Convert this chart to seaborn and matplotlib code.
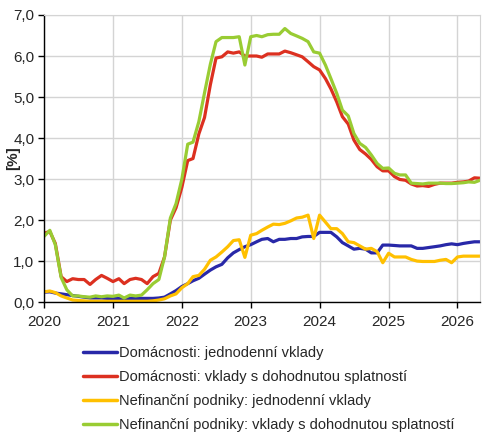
import matplotlib
matplotlib.use("Agg")
import matplotlib.pyplot as plt
import matplotlib.dates as mdates
from matplotlib.ticker import FuncFormatter, MultipleLocator
import pandas as pd
import seaborn as sns

months = pd.date_range("2020-01-01", periods=77, freq="MS")

domacnosti_jednodenni = [
    0.24, 0.25, 0.22, 0.20, 0.18, 0.16, 0.14, 0.12, 0.10, 0.10, 0.10, 0.09,
    0.09, 0.09, 0.09, 0.09, 0.09, 0.09, 0.09, 0.09, 0.10, 0.12, 0.20, 0.28,
    0.38, 0.45, 0.52, 0.58, 0.68, 0.78, 0.86, 0.92, 1.08, 1.20, 1.28, 1.35,
    1.40, 1.47, 1.53, 1.55, 1.47, 1.53, 1.53, 1.55, 1.55, 1.59, 1.60, 1.60,
    1.70, 1.70, 1.70, 1.59, 1.45, 1.37, 1.29, 1.31, 1.29, 1.20, 1.20, 1.39,
    1.39, 1.38, 1.37, 1.37, 1.37, 1.31, 1.31, 1.33, 1.35, 1.37, 1.40, 1.42,
    1.40, 1.43, 1.45, 1.47, 1.47,
]
domacnosti_splatnost = [
    1.68, 1.72, 1.43, 0.62, 0.50, 0.57, 0.55, 0.55, 0.43, 0.55, 0.65, 0.58,
    0.50, 0.57, 0.45, 0.55, 0.58, 0.55, 0.45, 0.62, 0.70, 1.10, 2.00, 2.30,
    2.80, 3.45, 3.50, 4.10, 4.50, 5.30, 5.95, 5.98, 6.10, 6.07, 6.10, 6.00,
    6.00, 6.00, 5.97, 6.05, 6.05, 6.05, 6.12, 6.08, 6.03, 5.98, 5.86, 5.74,
    5.66, 5.45, 5.20, 4.88, 4.52, 4.34, 3.95, 3.72, 3.61, 3.48, 3.30, 3.20,
    3.20, 3.06, 2.99, 2.97, 2.88, 2.83, 2.84, 2.82, 2.87, 2.90, 2.90, 2.90,
    2.92, 2.93, 2.95, 3.03, 3.02,
]
podniky_jednodenni = [
    0.25, 0.27, 0.23, 0.15, 0.10, 0.05, 0.04, 0.03, 0.02, 0.02, 0.02, 0.02,
    0.02, 0.02, 0.02, 0.02, 0.02, 0.02, 0.02, 0.03, 0.05, 0.08, 0.15, 0.20,
    0.35, 0.45, 0.62, 0.65, 0.80, 1.02, 1.10, 1.22, 1.35, 1.50, 1.52, 1.09,
    1.63, 1.67, 1.75, 1.83, 1.90, 1.89, 1.92, 1.98, 2.05, 2.07, 2.12, 1.55,
    2.12, 1.95, 1.79, 1.79, 1.67, 1.47, 1.45, 1.37, 1.29, 1.31, 1.23, 0.96,
    1.19, 1.10, 1.10, 1.10, 1.04, 1.00, 0.99, 0.99, 0.99, 1.02, 1.04, 0.96,
    1.10, 1.12, 1.12, 1.12, 1.12,
]
podniky_splatnost = [
    1.60, 1.75, 1.40, 0.60, 0.30, 0.15, 0.15, 0.13, 0.12, 0.15, 0.13, 0.15,
    0.14, 0.17, 0.10, 0.17, 0.15, 0.17, 0.30, 0.45, 0.55, 1.10, 2.05, 2.40,
    3.00, 3.85, 3.90, 4.40, 5.10, 5.80, 6.35, 6.45, 6.45, 6.45, 6.47, 5.78,
    6.47, 6.50, 6.47, 6.52, 6.53, 6.53, 6.67, 6.55, 6.49, 6.43, 6.35, 6.10,
    6.07, 5.78, 5.45, 5.09, 4.68, 4.54, 4.11, 3.87, 3.77, 3.59, 3.38, 3.26,
    3.27, 3.14, 3.10, 3.10, 2.90, 2.89, 2.88, 2.90, 2.90, 2.90, 2.89, 2.89,
    2.90, 2.91, 2.93, 2.92, 2.97,
]

series_names = [
    "Domácnosti: jednodenní vklady",
    "Domácnosti: vklady s dohodnutou splatností",
    "Nefinanční podniky: jednodenní vklady",
    "Nefinanční podniky: vklady s dohodnutou splatností",
]
colors = ["#2828a8", "#dc3020", "#ffc000", "#99cc33"]

frames = []
for name, vals in zip(series_names, [domacnosti_jednodenni, domacnosti_splatnost,
                                     podniky_jednodenni, podniky_splatnost]):
    frames.append(pd.DataFrame({"datum": months, "hodnota": vals, "serie": name}))
df = pd.concat(frames, ignore_index=True)

sns.set_style("white")
plt.rcParams["font.family"] = ["Liberation Sans", "DejaVu Sans"]

fig = plt.figure(figsize=(4.97, 4.41), dpi=100)
ax = fig.add_axes([0.0885, 0.315, 0.8775, 0.651])

sns.lineplot(data=df, x="datum", y="hodnota", hue="serie", palette=colors,
             linewidth=2.3, ax=ax, legend=False)

ax.set_xlim(months[0], months[-1])
ax.set_ylim(0, 7)
ax.yaxis.set_major_locator(MultipleLocator(1))
ax.yaxis.set_major_formatter(FuncFormatter(lambda v, p: f"{v:.1f}".replace(".", ",")))
ax.xaxis.set_major_locator(mdates.YearLocator())
ax.xaxis.set_major_formatter(mdates.DateFormatter("%Y"))

ax.grid(True, color="#d4d4d4", linewidth=1)
ax.set_axisbelow(True)
for side in ["top", "right"]:
    ax.spines[side].set_color("#d4d4d4")
for side in ["left", "bottom"]:
    ax.spines[side].set_color("black")
    ax.spines[side].set_linewidth(1)
ax.tick_params(axis="both", which="major", direction="out", length=4, width=1,
               color="black", labelsize=11, left=True, bottom=True)
ax.tick_params(axis="x", pad=5)
ax.tick_params(axis="y", pad=3)
ax.set_xlabel("")
ax.set_ylabel("[%]", fontsize=11, fontweight="bold")
ax.yaxis.set_label_coords(-0.055, 0.5)

handles = [plt.Line2D([], [], color=c, linewidth=2.5) for c in colors]
fig.legend(handles, series_names, loc="upper left", bbox_to_anchor=(0.167, 0.215),
           frameon=False, fontsize=10.5, handlelength=2.3, handletextpad=0.2,
           labelspacing=0.68, borderaxespad=0, borderpad=0)

fig.savefig("out.png", dpi=100)
